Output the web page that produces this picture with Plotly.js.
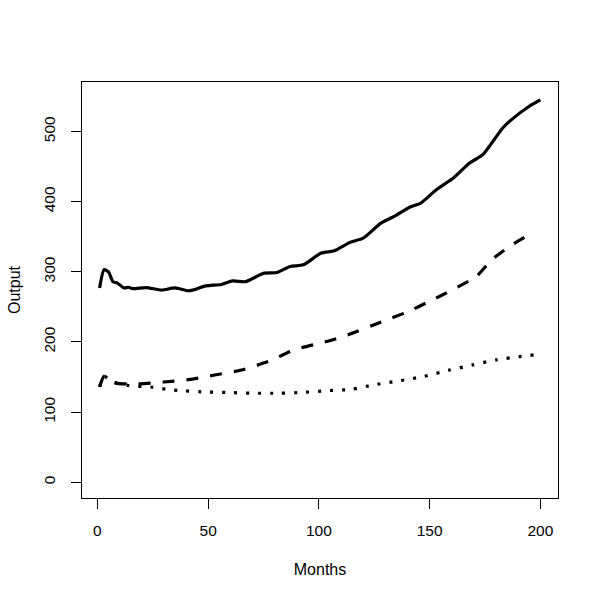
<!DOCTYPE html>
<html>
<head>
<meta charset="utf-8">
<script src="https://cdn.plot.ly/plotly-3.0.1.min.js"></script>
<style>html,body{margin:0;padding:0;background:#fff;}#chart{width:600px;height:600px;}</style>
</head>
<body>
<div id="chart"></div>
<script>
var solidMonths = [1,3,5,7,9,12,14,16,22,29,35,41,43,49,56,61,67,75,81,87,93,101,107,114,120,128,134,141,146,153,161,168,174,183,187,195,200];
var solidValues = [277,303,300,286,284,277,278,276,277.6,274,277,273,274,280,282,287,286,298,299,307.6,310,326.7,330,342,348,369.5,379,392,398,417,434.5,455,467,505,517,536,545];

var dashedMonths = [1,3,7,9,17,30,43,53,65,77,89,104,113,127,140,150,160,171,178,186,196];
var dashedValues = [136,151,143,141,140,143,147,153,160,172,189,201,210,227,243,258,274,293,317,336,355];

var dottedMonths = [1,3,7,14,25,31,37,47,58,70,82,92,104,115,125,136,147,159,169,180,197];
var dottedValues = [136,151,143,138,135.5,132.6,130.7,129,128,127,127,128,130.7,132.6,139,144.5,150.6,160,167,174.5,181.6];

var xTicks = [0,50,100,150,200];
var yTicks = [0,100,200,300,400,500];

var font = {family: '"Liberation Sans", Arial, sans-serif', color: '#000'};

var traces = [
  {x: solidMonths, y: solidValues, mode: 'lines', line: {color: '#000', width: 3.2, shape: 'spline', smoothing: 0.6}},
  {x: dashedMonths, y: dashedValues, mode: 'lines', line: {color: '#000', width: 3.2, dash: '12px,12px', shape: 'spline', smoothing: 0.6}},
  {x: dottedMonths, y: dottedValues, mode: 'lines', line: {color: '#000', width: 3.2, dash: '3px,9px', shape: 'spline', smoothing: 0.6}}
];

var layout = {
  width: 600, height: 600,
  showlegend: false,
  paper_bgcolor: '#fff', plot_bgcolor: '#fff',
  margin: {l: 82, r: 42, t: 82, b: 102, pad: 0},
  font: Object.assign({size: 15.5}, font),
  xaxis: {
    range: [-6.96, 207.96], tickvals: xTicks, ticktext: xTicks.map(String),
    ticks: 'outside', ticklen: 10, tickwidth: 1, tickcolor: '#000',
    ticklabelstandoff: 8,
    showline: true, linecolor: '#000', linewidth: 1, mirror: true,
    showgrid: false, zeroline: false,
    tickfont: Object.assign({size: 15.5}, font),
    title: {text: 'Months', font: Object.assign({size: 16}, font), standoff: 26},
    automargin: false
  },
  yaxis: {
    range: [-22.4, 570.6], tickvals: yTicks, ticktext: yTicks.map(String),
    ticks: 'outside', ticklen: 10, tickwidth: 1, tickcolor: '#000', tickangle: -90,
    ticklabelstandoff: 10,
    showline: true, linecolor: '#000', linewidth: 1, mirror: true,
    showgrid: false, zeroline: false,
    tickfont: Object.assign({size: 15.5}, font),
    title: {text: 'Output', font: Object.assign({size: 16}, font), standoff: 16},
    automargin: false
  }
};

Plotly.newPlot('chart', traces, layout, {displayModeBar: false, staticPlot: true});
</script>
</body>
</html>
